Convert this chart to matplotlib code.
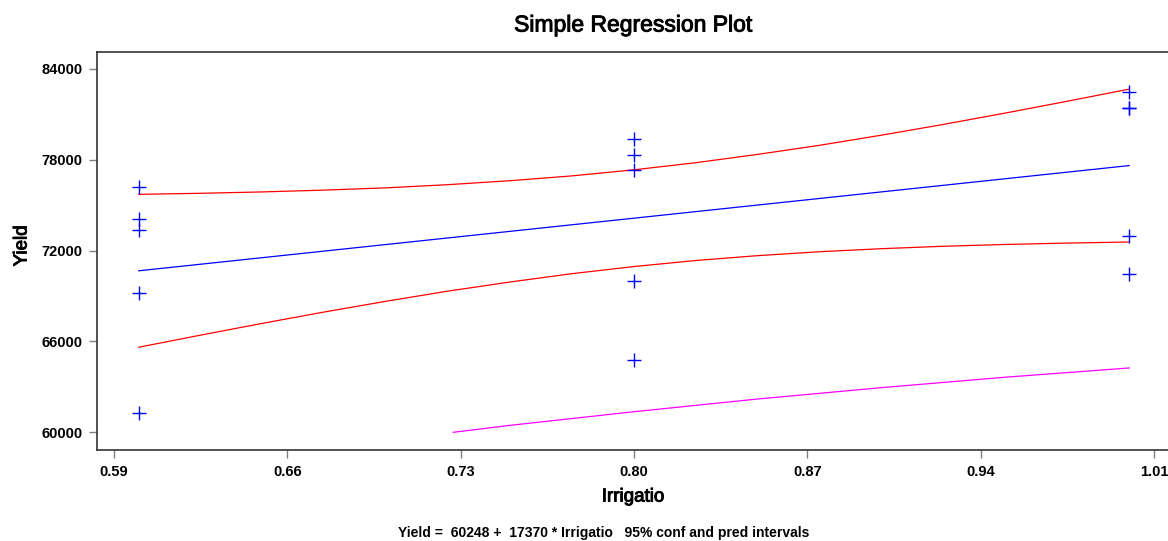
import matplotlib
matplotlib.use("Agg")
import matplotlib.pyplot as plt
import matplotlib.patheffects as pe

# ---- data ----
irrig_06 = [0.6, 0.6, 0.6, 0.6, 0.6]
yield_06 = [76200, 74100, 73350, 69200, 61300]
irrig_08 = [0.8, 0.8, 0.8, 0.8, 0.8]
yield_08 = [79400, 78350, 77300, 70000, 64750]
irrig_10 = [1.0, 1.0, 1.0, 1.0, 1.0]
yield_10 = [82450, 81450, 81450, 72950, 70450]

fit_x = [0.6, 1.0]
fit_y = [70670, 77620]

band_x = [0.600, 0.625, 0.650, 0.675, 0.700, 0.725, 0.750, 0.775, 0.800,
          0.825, 0.850, 0.875, 0.900, 0.925, 0.950, 0.975, 1.000]
conf_upper = [75720, 75790, 75880, 76000, 76150, 76360, 76620, 76940, 77340,
              77810, 78360, 78960, 79630, 80340, 81090, 81870, 82670]
conf_lower = [65620, 66420, 67200, 67950, 68660, 69330, 69930, 70480, 70950,
              71350, 71670, 71930, 72130, 72290, 72410, 72500, 72570]

pred_x = [0.727, 0.750, 0.800, 0.850, 0.900, 0.950, 1.000]
pred_lower = [60000, 60460, 61360, 62200, 62950, 63640, 64250]

x_ticks = [0.59, 0.66, 0.73, 0.80, 0.87, 0.94, 1.01]
x_ticklabels = ["0.59", "0.66", "0.73", "0.80", "0.87", "0.94", "1.01"]
y_ticks = [60000, 66000, 72000, 78000, 84000]
y_ticklabels = ["60000", "66000", "72000", "78000", "84000"]

title = "Simple Regression Plot"
x_label = "Irrigatio"
y_label = "Yield"
footer = "Yield =  60248 +  17370 * Irrigatio   95% conf and pred intervals"

# ---- figure ----
W, H = 1168, 541
fig = plt.figure(figsize=(W / 100, H / 100), dpi=100)
font = "Liberation Sans"
heavy = [pe.withStroke(linewidth=0.7, foreground="black")]

left_px, right_px, top_px, bottom_px = 97, 1180, 52, 449.5
ax = fig.add_axes([left_px / W, (H - bottom_px) / H,
                   (right_px - left_px) / W, (bottom_px - top_px) / H])

ax.plot(fit_x, fit_y, color="#0000ff", lw=0.9)
ax.plot(band_x, conf_upper, color="#ff0000", lw=0.9)
ax.plot(band_x, conf_lower, color="#ff0000", lw=0.9)
ax.plot(pred_x, pred_lower, color="#ff00ff", lw=0.9)

for xs, ys in [(irrig_06, yield_06), (irrig_08, yield_08), (irrig_10, yield_10)]:
    ax.plot(xs, ys, linestyle="none", marker="+", markersize=10,
            markeredgewidth=1.0, color="#0000ff")

ax.set_xlim(0.58313, 1.02053)
ax.set_ylim(58864, 85123)

ax.set_xticks(x_ticks)
ax.set_xticklabels(x_ticklabels, fontfamily=font, fontweight="bold", fontsize=10.5)
ax.set_yticks(y_ticks)
ax.set_yticklabels(y_ticklabels, fontfamily=font, fontweight="bold", fontsize=10.5)
ax.tick_params(axis="both", direction="out", length=5.5, width=1.0,
               color="#808080", labelcolor="black")
ax.tick_params(axis="x", pad=6)
ax.tick_params(axis="y", pad=5)

for s in ax.spines.values():
    s.set_color("#333333")
    s.set_linewidth(1.2)

fig.text(633 / W, 1 - 25 / H, title, ha="center", va="center",
         fontfamily=font, fontsize=16.5, path_effects=heavy)
fig.text(633 / W, 1 - 497 / H, x_label, ha="center", va="center",
         fontfamily=font, fontsize=13.5, path_effects=heavy)
fig.text(22 / W, 1 - 246 / H, y_label, ha="center", va="center", rotation=90,
         fontfamily=font, fontsize=13.5, path_effects=heavy)
fig.text(604 / W, 1 - 533 / H, footer, ha="center", va="center",
         fontfamily=font, fontweight="bold", fontsize=10)

fig.savefig("out.png", dpi=100)
